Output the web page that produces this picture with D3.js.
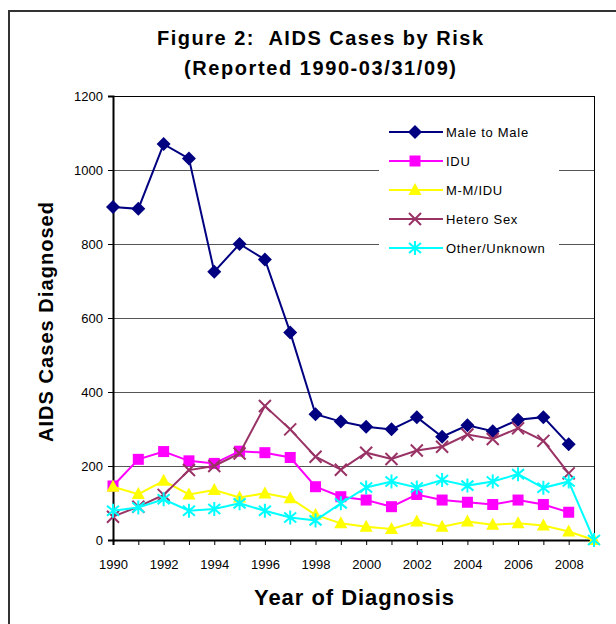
<!DOCTYPE html>
<html>
<head>
<meta charset="utf-8">
<script src="https://cdn.jsdelivr.net/npm/d3@7"></script>
<style>
body { margin: 0; background: #fff; }
svg { display: block; font-family: "Liberation Sans", Arial, sans-serif; }
text { white-space: pre; }
</style>
</head>
<body>
<svg id="chart" width="616" height="624"></svg>
<script>
// data
var years = [1990,1991,1992,1993,1994,1995,1996,1997,1998,1999,2000,2001,2002,2003,2004,2005,2006,2007,2008,2009];
var male_to_male = [900,895,1070,1031,725,800,758,561,340,320,306,299,332,279,310,294,325,332,259,null];
var idu          = [146,218,239,214,207,240,236,223,144,117,108,90,123,108,102,96,108,96,75,null];
var mm_idu       = [144,124,160,123,135,115,126,113,68,45,36,30,50,36,50,41,45,39,23,0];
var hetero_sex   = [63,90,122,189,200,234,362,299,225,190,236,219,242,252,285,273,302,268,180,null];
var other_unknown= [79,88,110,79,84,99,79,61,53,99,142,158,142,162,147,158,178,141,158,0];
var y_ticks = [0,200,400,600,800,1000,1200];
var x_labels = [1990,1992,1994,1996,1998,2000,2002,2004,2006,2008];

var series = [
    {name: "Male to Male",  values: male_to_male,  color: "#000080", marker: "diamond"},
    {name: "IDU",           values: idu,           color: "#ff00ff", marker: "square"},
    {name: "M-M/IDU",       values: mm_idu,        color: "#ffff00", marker: "triangle"},
    {name: "Hetero Sex",    values: hetero_sex,    color: "#993366", marker: "cross"},
    {name: "Other/Unknown", values: other_unknown, color: "#00ffff", marker: "star"}
];

var svg = d3.select("#chart");

// outer frame (right and bottom run off the picture)
svg.append("path")
    .attr("d", "M9,630 L9,11 L630,11")
    .attr("fill", "none")
    .attr("stroke", "#333")
    .attr("stroke-width", 2);

var plot_left = 113, plot_right = 594, plot_top = 96, plot_bottom = 540;

var x = d3.scaleLinear().domain([1990, 2009]).range([plot_left, plot_right]);
var y = d3.scaleLinear().domain([0, 1200]).range([plot_bottom, plot_top]);

// title (Excel spreads its letters, so stretch to the same width)
svg.append("text")
    .attr("x", 320).attr("y", 45)
    .attr("text-anchor", "middle")
    .attr("font-size", 20).attr("font-weight", "bold")
    .attr("textLength", 326).attr("lengthAdjust", "spacing")
    .text("Figure 2:  AIDS Cases by Risk");
svg.append("text")
    .attr("x", 320).attr("y", 75)
    .attr("text-anchor", "middle")
    .attr("font-size", 20).attr("font-weight", "bold")
    .attr("textLength", 272).attr("lengthAdjust", "spacing")
    .text("(Reported 1990-03/31/09)");

// gridlines
svg.append("g")
    .selectAll("line")
    .data(y_ticks.filter(function(d){ return d > 0; }))
    .join("line")
    .attr("x1", plot_left).attr("x2", plot_right)
    .attr("y1", function(d){ return y(d) + 0.5; })
    .attr("y2", function(d){ return y(d) + 0.5; })
    .attr("stroke", function(d){ return d === 1200 ? "#000" : "#555"; })
    .attr("stroke-width", 1);

// right edge of plot area
svg.append("line")
    .attr("x1", plot_right + 0.5).attr("x2", plot_right + 0.5)
    .attr("y1", plot_top).attr("y2", plot_bottom)
    .attr("stroke", "#000");

// y axis
var yAxis = svg.append("g")
    .attr("transform", "translate(" + plot_left + ",0)")
    .call(d3.axisLeft(y).tickValues(y_ticks).tickSize(5).tickPadding(5).tickFormat(d3.format("d")));
yAxis.select(".domain").attr("stroke-width", 2);
yAxis.selectAll("text").attr("font-size", 13).attr("fill", "#000").attr("font-family", "Liberation Sans, Arial, sans-serif");

// x axis, ticks every year, labels every other year
var xAxis = svg.append("g")
    .attr("transform", "translate(0," + plot_bottom + ")")
    .call(d3.axisBottom(x).tickValues(years).tickSize(5).tickPadding(15)
        .tickFormat(function(d){ return x_labels.indexOf(d) >= 0 ? d : ""; }));
xAxis.select(".domain").attr("stroke-width", 2);
xAxis.selectAll("text").attr("font-size", 13).attr("fill", "#000").attr("font-family", "Liberation Sans, Arial, sans-serif");

// axis titles
svg.append("text")
    .attr("transform", "translate(53,322) rotate(-90)")
    .attr("text-anchor", "middle")
    .attr("font-size", 20).attr("font-weight", "bold")
    .attr("textLength", 240).attr("lengthAdjust", "spacing")
    .text("AIDS Cases Diagnosed");
svg.append("text")
    .attr("x", 354).attr("y", 605)
    .attr("text-anchor", "middle")
    .attr("font-size", 22).attr("font-weight", "bold")
    .attr("textLength", 200).attr("lengthAdjust", "spacing")
    .text("Year of Diagnosis");

function draw_marker(g, kind, color){
    if(kind === "diamond"){
        g.append("path").attr("d", "M0,-7L7,0L0,7L-7,0Z").attr("fill", color);
    } else if(kind === "square"){
        g.append("rect").attr("x", -5.5).attr("y", -5.5).attr("width", 11).attr("height", 11).attr("fill", color);
    } else if(kind === "triangle"){
        g.append("path").attr("d", "M0,-7L6.5,5L-6.5,5Z").attr("fill", color);
    } else if(kind === "cross"){
        g.append("path").attr("d", "M-6,-6L6,6M-6,6L6,-6").attr("stroke", color).attr("stroke-width", 2);
    } else if(kind === "star"){
        g.append("path").attr("d", "M-6,-5L6,5M-6,5L6,-5M0,-7L0,7").attr("stroke", color).attr("stroke-width", 2);
    }
}

var line = d3.line()
    .defined(function(d){ return d.v !== null; })
    .x(function(d){ return x(d.year); })
    .y(function(d){ return y(d.v); });

var plot = svg.append("g");
series.forEach(function(s){
    var pts = years.map(function(yr, i){ return {year: yr, v: s.values[i]}; });
    plot.append("path")
        .datum(pts)
        .attr("d", line)
        .attr("fill", "none")
        .attr("stroke", s.color)
        .attr("stroke-width", 2);
    pts.filter(function(d){ return d.v !== null; }).forEach(function(d){
        var g = plot.append("g").attr("transform", "translate(" + x(d.year) + "," + y(d.v) + ")");
        draw_marker(g, s.marker, s.color);
    });
});

// legend
var legend = svg.append("g");
legend.append("rect")
    .attr("x", 379).attr("y", 114).attr("width", 180).attr("height", 150)
    .attr("fill", "#fff");
series.forEach(function(s, i){
    var ly = 132 + i * 29;
    legend.append("line")
        .attr("x1", 389).attr("x2", 443)
        .attr("y1", ly).attr("y2", ly)
        .attr("stroke", s.color).attr("stroke-width", 2);
    var g = legend.append("g").attr("transform", "translate(415," + ly + ")");
    draw_marker(g, s.marker, s.color);
    legend.append("text")
        .attr("x", 446).attr("y", ly + 5)
        .attr("font-size", 13)
        .attr("letter-spacing", 0.7)
        .text(s.name);
});
</script>
</body>
</html>
